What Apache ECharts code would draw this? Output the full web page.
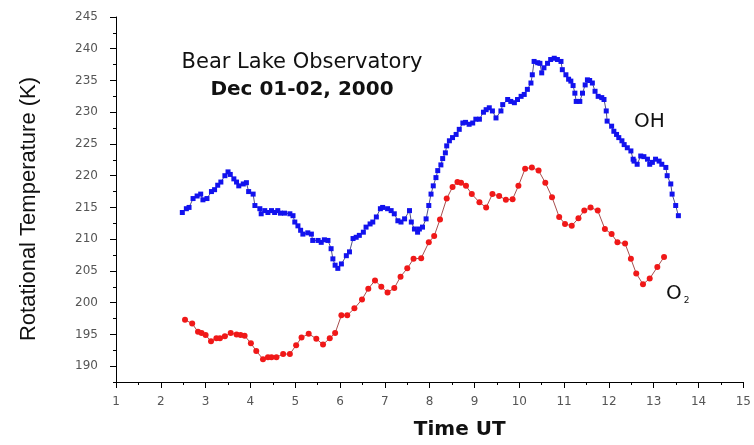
<!DOCTYPE html>
<html>
<head>
<meta charset="utf-8">
<title>Bear Lake Observatory</title>
<script src="https://cdn.jsdelivr.net/npm/echarts@6/dist/echarts.min.js"></script>
<style>
  html, body { margin: 0; padding: 0; background: #fff; }
  #chart { width: 754px; height: 445px; }
</style>
</head>
<body>
<div id="chart"></div>
<script>
// OH rotational temperature (K) against universal time (h)
const timeOH = [2.48, 2.57, 2.63, 2.72, 2.81, 2.89, 2.94, 3.03, 3.13, 3.20, 3.27, 3.34, 3.43, 3.50, 3.55, 3.63,
  3.69, 3.74, 3.84, 3.91, 3.96, 4.06, 4.10, 4.21, 4.24, 4.32, 4.39, 4.47, 4.54, 4.61, 4.67, 4.76, 4.88, 4.95,
  4.99, 5.06, 5.12, 5.17, 5.28, 5.36, 5.39, 5.51, 5.58, 5.65, 5.73, 5.80, 5.84, 5.89, 5.95, 6.03, 6.14, 6.21,
  6.29, 6.36, 6.43, 6.52, 6.58, 6.67, 6.73, 6.81, 6.90, 6.95, 7.06, 7.14, 7.21, 7.29, 7.36, 7.44, 7.55, 7.59,
  7.66, 7.73, 7.77, 7.84, 7.92, 7.98, 8.03, 8.08, 8.14, 8.18, 8.25, 8.29, 8.35, 8.38, 8.44, 8.51, 8.59, 8.66,
  8.74, 8.80, 8.88, 8.96, 9.03, 9.11, 9.20, 9.26, 9.33, 9.40, 9.48, 9.59, 9.63, 9.74, 9.81, 9.89, 9.96, 10.04,
  10.11, 10.18, 10.26, 10.29, 10.33, 10.41, 10.46, 10.50, 10.55, 10.63, 10.70, 10.78, 10.85, 10.93, 10.96,
  11.04, 11.10, 11.15, 11.20, 11.24, 11.27, 11.35, 11.41, 11.47, 11.52, 11.57, 11.63, 11.69, 11.76, 11.84,
  11.89, 11.94, 11.96, 12.06, 12.11, 12.17, 12.22, 12.29, 12.34, 12.41, 12.49, 12.54, 12.56, 12.63, 12.71,
  12.78, 12.86, 12.91, 12.97, 13.04, 13.12, 13.18, 13.27, 13.30, 13.38, 13.41, 13.49, 13.55, 13.60];
const tempOH = [214.2, 214.8, 215.0, 216.4, 216.8, 217.1, 216.2, 216.4, 217.5, 217.8, 218.5, 219.0, 220.0, 220.6, 220.2, 219.5,
  219.0, 218.4, 218.7, 218.9, 217.5, 217.1, 215.3, 214.8, 214.0, 214.5, 214.2, 214.5, 214.2, 214.5, 214.1, 214.1, 214.0, 213.7,
  212.7, 212.1, 211.4, 210.8, 211.0, 210.8, 209.8, 209.8, 209.5, 209.9, 209.8, 208.5, 206.9, 205.9, 205.4, 206.1, 207.4, 208.0,
  210.1, 210.3, 210.6, 211.1, 211.9, 212.4, 212.7, 213.5, 214.8, 215.0, 214.8, 214.5, 214.0, 212.9, 212.7, 213.2, 214.5, 212.7,
  211.6, 211.1, 211.6, 211.9, 213.2, 215.3, 217.1, 218.4, 219.7, 220.8, 221.7, 222.7, 223.6, 224.7, 225.5, 226.0, 226.5, 227.3,
  228.3, 228.4, 228.1, 228.3, 228.9, 228.9, 230.0, 230.4, 230.7, 230.2, 229.1, 230.2, 231.2, 232.0, 231.7, 231.5, 232.0, 232.5,
  232.8, 233.6, 234.6, 235.9, 238.0, 237.8, 237.7, 236.2, 237.0, 237.7, 238.3, 238.5, 238.3, 238.0, 236.7,
  235.9, 235.2, 234.9, 234.2, 233.0, 231.7, 231.7, 233.0, 234.3, 235.1, 235.0, 234.6, 233.3, 232.5,
  232.3, 232.0, 230.2, 228.6, 227.8, 227.0, 226.5, 226.0, 225.5, 224.9, 224.4, 223.9, 222.6, 222.3, 221.8,
  223.1, 223.0, 222.6, 221.8, 222.1, 222.6, 222.3, 221.8, 221.3, 220.0, 218.7, 217.1, 215.3, 213.7];

// O2 rotational temperature (K) against universal time (h)
const timeO2 = [2.54, 2.70, 2.83, 2.91, 3.00, 3.12, 3.24, 3.32, 3.43, 3.56, 3.69, 3.78, 3.87, 4.01, 4.13, 4.28,
  4.39, 4.47, 4.58, 4.73, 4.88, 5.02, 5.14, 5.30, 5.47, 5.62, 5.77, 5.89, 6.03, 6.16, 6.32, 6.49, 6.63, 6.78,
  6.92, 7.06, 7.21, 7.35, 7.50, 7.64, 7.81, 7.98, 8.10, 8.23, 8.38, 8.51, 8.62, 8.70, 8.81, 8.94, 9.11, 9.26,
  9.40, 9.55, 9.70, 9.85, 9.98, 10.13, 10.28, 10.43, 10.58, 10.73, 10.89, 11.02, 11.17, 11.32, 11.45, 11.59,
  11.75, 11.91, 12.06, 12.19, 12.36, 12.49, 12.61, 12.76, 12.91, 13.08, 13.23];
const tempO2 = [197.3, 196.7, 195.4, 195.2, 194.9, 193.9, 194.4, 194.4, 194.7, 195.2, 195.0, 194.9, 194.8, 193.6, 192.4, 191.1,
  191.4, 191.4, 191.4, 191.9, 191.9, 193.3, 194.5, 195.1, 194.3, 193.4, 194.4, 195.2, 198.0, 198.0, 199.1, 200.5, 202.2, 203.5,
  202.5, 201.6, 202.3, 204.1, 205.4, 206.9, 207.0, 209.5, 210.5, 213.1, 216.4, 218.2, 219.0, 218.9, 218.4, 217.1, 215.8, 215.0,
  217.1, 216.8, 216.2, 216.3, 218.4, 221.1, 221.3, 220.8, 218.9, 216.6, 213.5, 212.4, 212.1, 213.3, 214.5, 215.0,
  214.5, 211.6, 210.8, 209.5, 209.3, 206.9, 204.6, 202.9, 203.8, 205.6, 207.2];

// axis ticks
const yLabelValues = [190, 195, 200, 205, 210, 215, 220, 225, 230, 235, 240, 245];
const yMinorValues = [187.5, 192.5, 197.5, 202.5, 207.5, 212.5, 217.5, 222.5, 227.5, 232.5, 237.5, 242.5];

const pairs = (xs, ys) => xs.map((x, i) => [x, ys[i]]);

const chart = echarts.init(document.getElementById('chart'), null, { renderer: 'canvas' });

const tickFont = { fontFamily: 'DejaVu Sans', fontSize: 12, color: '#555' };

chart.setOption({
  animation: false,
  backgroundColor: '#fff',
  grid: { left: 116, right: 10, top: 17, bottom: 61, containLabel: false },
  xAxis: {
    type: 'value',
    min: 1, max: 15, interval: 1,
    name: 'Time UT',
    nameLocation: 'middle',
    nameGap: 38,
    nameTextStyle: { fontFamily: 'DejaVu Sans', fontWeight: 'bold', fontSize: 20, color: '#111', padding: [0, 0, 0, 60] },
    axisLine: { show: true, lineStyle: { color: '#000', width: 1 } },
    axisTick: { show: true, length: 6, lineStyle: { color: '#000' } },
    minorTick: { show: true, splitNumber: 2, length: 3, lineStyle: { color: '#000' } },
    axisLabel: Object.assign({ margin: 14 }, tickFont),
    splitLine: { show: false }
  },
  yAxis: [
    {
      type: 'value',
      min: 187.5, max: 245,
      position: 'left',
      name: 'Rotational Temperature (K)',
      nameLocation: 'middle',
      nameGap: 76,
      nameTextStyle: { fontFamily: 'Liberation Sans', fontSize: 22, color: '#111', padding: [0, 19, 0, 0] },
      axisLine: { show: true, lineStyle: { color: '#000', width: 1 } },
      axisTick: { show: true, length: 3, customValues: yMinorValues, lineStyle: { color: '#000' } },
      axisLabel: Object.assign({ margin: 18, customValues: yLabelValues }, tickFont),
      splitLine: { show: false }
    },
    {
      type: 'value',
      min: 187.5, max: 245,
      position: 'left',
      axisLine: { show: false },
      axisTick: { show: true, length: 6, customValues: yLabelValues, lineStyle: { color: '#000' } },
      axisLabel: { show: false },
      splitLine: { show: false }
    }
  ],
  graphic: [
    { type: 'text', x: 302, y: 52, style: { text: 'Bear Lake Observatory', fontFamily: 'DejaVu Sans', fontSize: 21, fill: '#111', textAlign: 'center', textVerticalAlign: 'top' } },
    { type: 'text', x: 302, y: 80, style: { text: 'Dec 01-02, 2000', fontFamily: 'DejaVu Sans', fontWeight: 'bold', fontSize: 20, fill: '#111', textAlign: 'center', textVerticalAlign: 'top' } },
    { type: 'text', x: 634, y: 112, style: { text: 'OH', fontFamily: 'DejaVu Sans', fontSize: 20, fill: '#111', textAlign: 'left', textVerticalAlign: 'top' } },
    { type: 'text', x: 666, y: 282, style: {
        text: '{o|O}{s|2}', textAlign: 'left', textVerticalAlign: 'top',
        rich: {
          o: { fontFamily: 'DejaVu Sans', fontSize: 20, fill: '#111', color: '#111' },
          s: { fontFamily: 'DejaVu Sans', fontSize: 9, fill: '#111', color: '#111', padding: [14, 0, 0, 2] }
        }
      } }
  ],
  series: [
    {
      name: 'OH',
      type: 'line',
      yAxisIndex: 0,
      data: pairs(timeOH, tempOH),
      symbol: 'rect',
      symbolSize: 5,
      showSymbol: true,
      itemStyle: { color: '#1212ee' },
      lineStyle: { color: '#22226a', width: 0.8 },
      emphasis: { disabled: true },
      z: 3
    },
    {
      name: 'O2',
      type: 'line',
      yAxisIndex: 0,
      data: pairs(timeO2, tempO2),
      symbol: 'circle',
      symbolSize: 6,
      showSymbol: true,
      itemStyle: { color: '#f01818' },
      lineStyle: { color: '#902020', width: 0.8 },
      emphasis: { disabled: true },
      z: 2
    }
  ]
});
</script>
</body>
</html>
